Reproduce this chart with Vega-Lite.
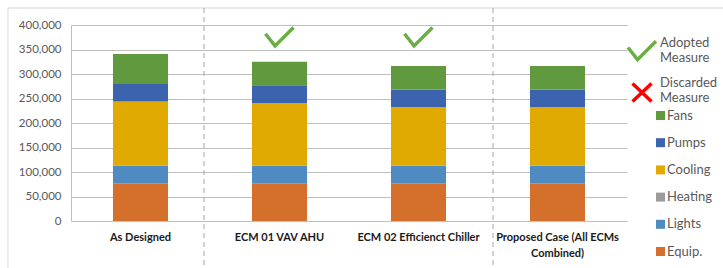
{
  "$schema": "https://vega.github.io/schema/vega-lite/v6.json",
  "width": 556,
  "height": 196,
  "autosize": {"type": "none"},
  "padding": {"left": 71, "top": 25, "right": 96, "bottom": 47},
  "config": {
    "view": {"stroke": null},
    "font": "Lato",
    "axis": {"labelFont": "Lato", "ticks": false}
  },
  "datasets": {
    "energy": [
      {"s": "As Designed", "c": "Equip.", "v": 77000},
      {"s": "As Designed", "c": "Lights", "v": 36000},
      {"s": "As Designed", "c": "Heating", "v": 0},
      {"s": "As Designed", "c": "Cooling", "v": 131000},
      {"s": "As Designed", "c": "Pumps", "v": 35500},
      {"s": "As Designed", "c": "Fans", "v": 61500},
      {"s": "ECM 01 VAV AHU", "c": "Equip.", "v": 77000},
      {"s": "ECM 01 VAV AHU", "c": "Lights", "v": 36000},
      {"s": "ECM 01 VAV AHU", "c": "Heating", "v": 0},
      {"s": "ECM 01 VAV AHU", "c": "Cooling", "v": 128000},
      {"s": "ECM 01 VAV AHU", "c": "Pumps", "v": 36000},
      {"s": "ECM 01 VAV AHU", "c": "Fans", "v": 48000},
      {"s": "ECM 02 Efficienct Chiller", "c": "Equip.", "v": 77000},
      {"s": "ECM 02 Efficienct Chiller", "c": "Lights", "v": 36000},
      {"s": "ECM 02 Efficienct Chiller", "c": "Heating", "v": 0},
      {"s": "ECM 02 Efficienct Chiller", "c": "Cooling", "v": 119500},
      {"s": "ECM 02 Efficienct Chiller", "c": "Pumps", "v": 36000},
      {"s": "ECM 02 Efficienct Chiller", "c": "Fans", "v": 48000},
      {"s": "Proposed Case (All ECMs Combined)", "c": "Equip.", "v": 77000},
      {"s": "Proposed Case (All ECMs Combined)", "c": "Lights", "v": 36000},
      {"s": "Proposed Case (All ECMs Combined)", "c": "Heating", "v": 0},
      {"s": "Proposed Case (All ECMs Combined)", "c": "Cooling", "v": 119500},
      {"s": "Proposed Case (All ECMs Combined)", "c": "Pumps", "v": 36000},
      {"s": "Proposed Case (All ECMs Combined)", "c": "Fans", "v": 48000}
    ],
    "measures": [
      {"s": "ECM 01 VAV AHU", "status": "Adopted Measure"},
      {"s": "ECM 02 Efficienct Chiller", "status": "Adopted Measure"}
    ],
    "one": [{"k": 1}]
  },
  "layer": [
    {
      "data": {"name": "energy"},
      "transform": [
        {"calculate": "indexof(['Equip.','Lights','Heating','Cooling','Pumps','Fans'], datum.c)", "as": "rank"}
      ],
      "mark": {"type": "bar"},
      "encoding": {
        "x": {
          "field": "s",
          "type": "nominal",
          "sort": null,
          "scale": {
            "domain": ["As Designed", "ECM 01 VAV AHU", "ECM 02 Efficienct Chiller", "Proposed Case (All ECMs Combined)"],
            "paddingInner": 0.604,
            "paddingOuter": 0.302
          },
          "axis": {
            "title": null, "labelAngle": 0, "labelFontWeight": "bold", "labelFontSize": 11,
            "labelColor": "#1a1a1a", "labelPadding": 10, "labelLineHeight": 16,
            "domainColor": "#BFBFBF", "ticks": false,
            "labelExpr": "datum.value == 'Proposed Case (All ECMs Combined)' ? ['Proposed Case (All ECMs', 'Combined)'] : datum.value"
          }
        },
        "y": {
          "field": "v",
          "type": "quantitative",
          "stack": "zero",
          "title": null,
          "scale": {"domain": [0, 400000], "nice": false},
          "axis": {
            "title": null,
            "values": [0, 50000, 100000, 150000, 200000, 250000, 300000, 350000, 400000],
            "labelExpr": "format(datum.value, ',')", "grid": true, "gridColor": "#BFBFBF", "domainColor": "#BFBFBF",
            "ticks": false, "labelPadding": 10, "labelFontSize": 11.5, "labelColor": "#595959"
          }
        },
        "order": {"field": "rank", "type": "quantitative", "sort": "ascending"},
        "color": {
          "field": "c",
          "type": "nominal",
          "scale": {
            "domain": ["Fans", "Pumps", "Cooling", "Heating", "Lights", "Equip."],
            "range": ["#61993F", "#3C63AD", "#E1AA00", "#9B9B9B", "#4F8BC0", "#D4702B"]
          },
          "legend": {
            "title": null, "orient": "none", "legendX": 583, "legendY": 84,
            "symbolType": "square", "symbolSize": 81, "symbolStrokeWidth": 0,
            "labelFont": "Lato", "labelFontSize": 13, "labelColor": "#595959",
            "rowPadding": 13.2, "labelOffset": 0, "padding": 0
          }
        }
      }
    },
    {
      "data": {"name": "one"},
      "mark": {"type": "rule", "color": "#D9D9D9", "strokeWidth": 1},
      "encoding": {
        "x": {"datum": "As Designed", "type": "nominal", "bandPosition": -1.908,
          "axis": {
            "title": null, "labelAngle": 0, "labelFontWeight": "bold", "labelFontSize": 11,
            "labelColor": "#1a1a1a", "labelPadding": 10, "labelLineHeight": 16,
            "domainColor": "#BFBFBF", "ticks": false,
            "labelExpr": "datum.value == 'Proposed Case (All ECMs Combined)' ? ['Proposed Case (All ECMs', 'Combined)'] : datum.value"
          }},
        "y": {"datum": 434600, "type": "quantitative",
          "axis": {
            "title": null,
            "values": [0, 50000, 100000, 150000, 200000, 250000, 300000, 350000, 400000],
            "labelExpr": "format(datum.value, ',')", "grid": true, "gridColor": "#BFBFBF", "domainColor": "#BFBFBF",
            "ticks": false, "labelPadding": 10, "labelFontSize": 11.5, "labelColor": "#595959"
          }},
        "y2": {"datum": -150000}
      }
    },
    {
      "data": {"name": "one"},
      "mark": {"type": "rule", "color": "#D9D9D9", "strokeWidth": 1},
      "encoding": {
        "x": {"datum": "As Designed", "type": "nominal", "bandPosition": -1.908,
          "axis": {
            "title": null, "labelAngle": 0, "labelFontWeight": "bold", "labelFontSize": 11,
            "labelColor": "#1a1a1a", "labelPadding": 10, "labelLineHeight": 16,
            "domainColor": "#BFBFBF", "ticks": false,
            "labelExpr": "datum.value == 'Proposed Case (All ECMs Combined)' ? ['Proposed Case (All ECMs', 'Combined)'] : datum.value"
          }},
        "x2": {"datum": "Proposed Case (All ECMs Combined)", "bandPosition": 4},
        "y": {"datum": 434600, "type": "quantitative",
          "axis": {
            "title": null,
            "values": [0, 50000, 100000, 150000, 200000, 250000, 300000, 350000, 400000],
            "labelExpr": "format(datum.value, ',')", "grid": true, "gridColor": "#BFBFBF", "domainColor": "#BFBFBF",
            "ticks": false, "labelPadding": 10, "labelFontSize": 11.5, "labelColor": "#595959"
          }}
      }
    },
    {
      "data": {"name": "one"},
      "mark": {"type": "rule", "color": "#A6A6A6", "strokeWidth": 1, "strokeDash": [5, 4]},
      "encoding": {
        "x": {"datum": "As Designed", "type": "nominal", "bandPosition": 1.653,
          "axis": {
            "title": null, "labelAngle": 0, "labelFontWeight": "bold", "labelFontSize": 11,
            "labelColor": "#1a1a1a", "labelPadding": 10, "labelLineHeight": 16,
            "domainColor": "#BFBFBF", "ticks": false,
            "labelExpr": "datum.value == 'Proposed Case (All ECMs Combined)' ? ['Proposed Case (All ECMs', 'Combined)'] : datum.value"
          }},
        "y": {"datum": 434600, "type": "quantitative",
          "axis": {
            "title": null,
            "values": [0, 50000, 100000, 150000, 200000, 250000, 300000, 350000, 400000],
            "labelExpr": "format(datum.value, ',')", "grid": true, "gridColor": "#BFBFBF", "domainColor": "#BFBFBF",
            "ticks": false, "labelPadding": 10, "labelFontSize": 11.5, "labelColor": "#595959"
          }},
        "y2": {"datum": -150000}
      }
    },
    {
      "data": {"name": "one"},
      "mark": {"type": "rule", "color": "#A6A6A6", "strokeWidth": 1, "strokeDash": [5, 4]},
      "encoding": {
        "x": {"datum": "ECM 02 Efficienct Chiller", "type": "nominal", "bandPosition": 1.853,
          "axis": {
            "title": null, "labelAngle": 0, "labelFontWeight": "bold", "labelFontSize": 11,
            "labelColor": "#1a1a1a", "labelPadding": 10, "labelLineHeight": 16,
            "domainColor": "#BFBFBF", "ticks": false,
            "labelExpr": "datum.value == 'Proposed Case (All ECMs Combined)' ? ['Proposed Case (All ECMs', 'Combined)'] : datum.value"
          }},
        "y": {"datum": 434600, "type": "quantitative",
          "axis": {
            "title": null,
            "values": [0, 50000, 100000, 150000, 200000, 250000, 300000, 350000, 400000],
            "labelExpr": "format(datum.value, ',')", "grid": true, "gridColor": "#BFBFBF", "domainColor": "#BFBFBF",
            "ticks": false, "labelPadding": 10, "labelFontSize": 11.5, "labelColor": "#595959"
          }},
        "y2": {"datum": -150000}
      }
    },
    {
      "data": {"name": "measures"},
      "mark": {"type": "point", "filled": false, "strokeWidth": 3.5, "size": 784, "opacity": 1},
      "encoding": {
        "x": {"field": "s", "type": "nominal",
          "axis": {
            "title": null, "labelAngle": 0, "labelFontWeight": "bold", "labelFontSize": 11,
            "labelColor": "#1a1a1a", "labelPadding": 10, "labelLineHeight": 16,
            "domainColor": "#BFBFBF", "ticks": false,
            "labelExpr": "datum.value == 'Proposed Case (All ECMs Combined)' ? ['Proposed Case (All ECMs', 'Combined)'] : datum.value"
          }},
        "y": {"datum": 375000, "type": "quantitative",
          "axis": {
            "title": null,
            "values": [0, 50000, 100000, 150000, 200000, 250000, 300000, 350000, 400000],
            "labelExpr": "format(datum.value, ',')", "grid": true, "gridColor": "#BFBFBF", "domainColor": "#BFBFBF",
            "ticks": false, "labelPadding": 10, "labelFontSize": 11.5, "labelColor": "#595959"
          }},
        "shape": {
          "field": "status",
          "type": "nominal",
          "scale": {
            "domain": ["Adopted Measure", "Discarded Measure"],
            "range": ["M-1,-0.25L-0.32,0.62L1,-0.7", "M-0.68,-0.53L0.68,0.75M-0.68,0.75L0.68,-0.53"]
          },
          "legend": {
            "title": null, "orient": "none", "legendX": 555, "legendY": 10,
            "symbolSize": 784, "symbolStrokeWidth": 3.5,
            "labelExpr": "split(datum.label, ' ')",
            "labelFont": "Lato", "labelFontSize": 13, "labelColor": "#595959",
            "labelBaseline": "line-bottom", "rowPadding": 8, "labelOffset": 2, "padding": 0
          }
        },
        "stroke": {
          "field": "status",
          "type": "nominal",
          "scale": {
            "domain": ["Adopted Measure", "Discarded Measure"],
            "range": ["#6AAF45", "#FF0000"]
          },
          "legend": {
            "title": null, "orient": "none", "legendX": 555, "legendY": 10,
            "symbolSize": 784, "symbolStrokeWidth": 3.5,
            "labelExpr": "split(datum.label, ' ')",
            "labelFont": "Lato", "labelFontSize": 13, "labelColor": "#595959",
            "labelBaseline": "line-bottom", "rowPadding": 8, "labelOffset": 2, "padding": 0
          }
        }
      }
    }
  ]
}
